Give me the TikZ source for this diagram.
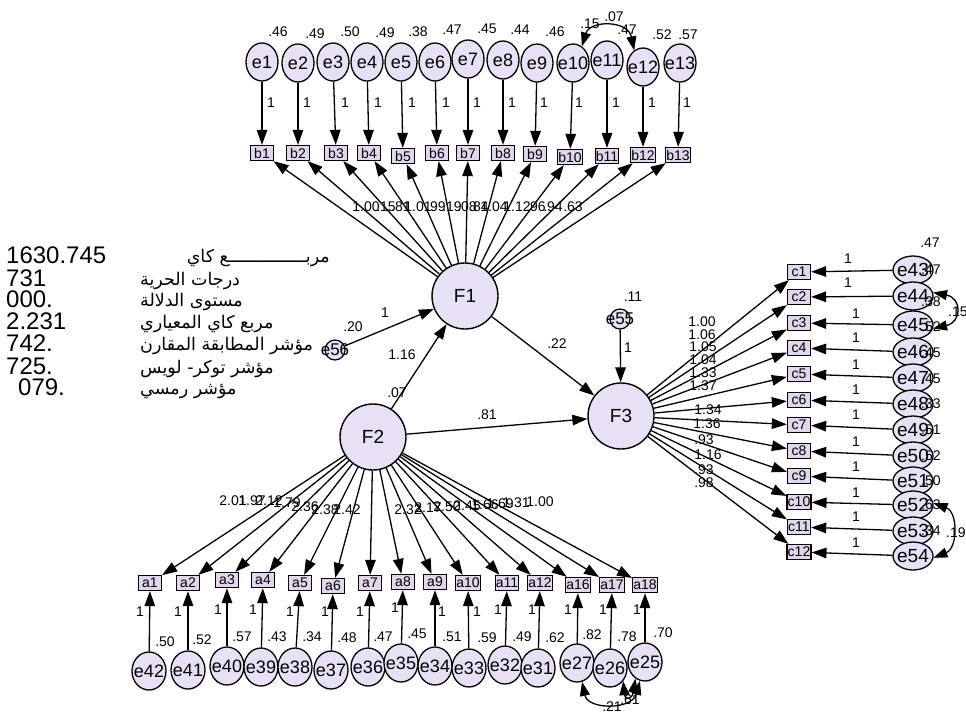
\documentclass[tikz,border=0pt]{standalone}
\usepackage{fontspec}
\setmainfont{Liberation Sans}
\newfontfamily\arabicfont[Script=Arabic]{DejaVu Sans}
\TeXXeTstate=1
\usetikzlibrary{arrows.meta,shapes.geometric}
\definecolor{lav}{RGB}{232,224,244}
\definecolor{boxc}{RGB}{226,214,236}
\begin{document}
\begin{tikzpicture}[x=1pt,y=-1pt,
  lat/.style={ellipse,draw,line width=1.3pt,fill=lav,inner sep=0pt,minimum width=32pt,minimum height=38pt,font=\fontsize{18}{18}\selectfont},
  latr/.style={lat,minimum width=40pt,minimum height=28pt},
  latb/.style={lat,minimum width=34pt,minimum height=38pt},
  fac/.style={circle,draw,line width=1.4pt,fill=lav,minimum size=66pt,inner sep=0pt,font=\fontsize{19}{19}\selectfont},
  dist/.style={circle,draw,line width=1.2pt,fill=lav,minimum size=20pt,inner sep=0pt},
  dtext/.style={font=\fontsize{17}{17}\selectfont,inner sep=0pt},
  obs/.style={rectangle,draw,line width=1.3pt,fill=boxc,inner sep=0.6pt,minimum width=23pt,minimum height=15pt,font=\fontsize{14}{14}\selectfont},
  val/.style={font=\fontsize{14}{14}\selectfont,inner sep=0pt},
  arr/.style={line width=1.3pt,-{Triangle[length=15pt,width=10.5pt]}},
  cov/.style={line width=1.3pt,{Triangle[length=14pt,width=10pt]}-{Triangle[length=14pt,width=10pt]}},
  stat/.style={font=\fontsize{24}{24}\selectfont,inner sep=0pt,anchor=base west},
  ar/.style={font=\arabicfont\fontsize{17.5}{17.5}\selectfont,inner sep=0pt},
]
\fill[white] (0,0) rectangle (966,713);
\useasboundingbox (0,0) rectangle (966,713);

% ---------- factors ----------
\node[fac] (F1) at (465,296) {F1};
\node[fac] (F2) at (373,437) {F2};
\node[fac] (F3) at (621,416) {F3};
\node[dist] (e56) at (335,350) {};
\node[dtext] (e56t) at (e56) {e56};
\node[dist] (e55) at (620,319) {};
\node[dtext] (e55t) at (e55) {e55};

\draw[arr] (e56) -- (F1);
\draw[arr] (e55) -- (F3);
\draw[arr] (F2) -- (F1);
\draw[arr] (F1) -- (F3);
\draw[arr] (F2) -- (F3);
\node[val] (s1) at (385,313) {1};
\node[val] (s2) at (353,327) {.20};
\node[val] (s3) at (402,355) {1.16};
\node[val] (s4) at (397,393) {.07};
\node[val] (s5) at (557,344) {.22};
\node[val] (s6) at (633,297) {.11};
\node[val] (s7) at (628,348) {1};
\node[val] (s8) at (487,415) {.81};

% ---------- top block ----------
\foreach \i/\ex/\ey/\bx/\by in {1/262/62/262/153,2/298/63/298/153,3/333/62/336/153,4/367/62/369/153,5/401/62/403/156,6/435/62/437/153,7/468/59/468/153,8/503/60/503/153,9/537/63/535/154,10/573/63/570/157,11/607/60/607/156,12/643/67/643/155,13/680/63/678/155}{
  \node[lat] (e\i) at (\ex,\ey) {\makebox[0pt]{e\i}};
  \node[obs] (b\i) at (\bx,\by) {b\i};
  \draw[arr] (e\i) -- (b\i);
  \draw[arr] (F1) -- (b\i);
  \node[val] (o\i) at (\bx+9,103) {1};
}
\foreach \n/\x/\y/\v in {1/278/32/.46,2/315/34/.49,3/350/32/.50,4/385/33/.49,5/418/32/.38,6/452/30/.47,7/487/29/.45,8/520/30/.44,9/555/32/.46,10/590/24/.15,11/627/30/.47,12/662/35/.52,13/688/35/.57}{
  \node[val] (r\n) at (\x,\y) {\v};
}
\draw[cov] (e10.62) .. controls (590,20) and (628,20) .. (e12.118);
\node[val] (cv1) at (614,17) {.07};
\foreach \n/\x/\v in {1/366/1.00,2/386/.15,3/401/.81,4/418/1.01,5/436/.99,6/452/.19,7/467/.08,8/479/.84,9/494/1.04,10/517/1.12,11/536/.96,12/553/.94,13/573/.63}{
  \node[val] (k\n) at (\x,207) {\v};
}

% ---------- right block ----------
\foreach \i/\cy in {1/272,2/297,3/323,4/348,5/374,6/400,7/425,8/451,9/476,10/502,11/527,12/552}{
  \node[obs] (c\i) at (799,\cy) {c\i};
  \draw[arr] (F3) -- (c\i);
}
\foreach \i/\j/\ey/\lx/\ly in {1/43/270/848/259,2/44/296/848/283,3/45/325/856/314,4/46/352/856/338,5/47/378/856/365,6/48/404/856/390,7/49/430/856/415,8/50/456/856/442,9/51/481/856/467,10/52/505/856/493,11/53/531/856/517,12/54/556/856/543}{
  \node[latr,font=\fontsize{19}{19}\selectfont] (e\j) at (913,\ey) {\makebox[0pt]{e\j}};
  \draw[arr] (e\j) -- (c\i);
  \node[val] (q\i) at (\lx,\ly) {1};
}
\foreach \j/\y/\v in {43/270/.47,44/302/.38,45/327/.52,46/353/.45,47/379/.45,48/404/.33,49/430/.51,50/456/.52,51/481/.50,52/505/.63,53/531/.34}{
  \node[val,anchor=west] (w\j) at (921,\y) {\v};
}
\node[val] (w0) at (930,243) {.47};
\draw[cov] (e44.10) .. controls (962,298) and (962,322) .. (e45.-10);
\node[val,anchor=west] (cv2) at (948,312) {.15};
\draw[cov] (e52.5) .. controls (958,512) and (958,548) .. (e54.-5);
\node[val,anchor=west] (cv3) at (946,533) {.19};
\foreach \n/\x/\y/\v in {1/702/322/1.00,2/702/335/1.06,3/703/347/1.05,4/703/360/1.04,5/703/373/1.33,6/703/386/1.37,7/708/410/1.34,8/707/424/1.36,9/704/440/.93,10/708/455/1.16,11/704/470/.93,12/704/483/.98}{
  \node[val] (h\n) at (\x,\y) {\v};
}

% ---------- bottom block ----------
\foreach \i/\ax/\ay/\j/\ex/\ey/\vx/\vy/\v/\ox/\oy in {1/150/583/42/149/671/165/642/.50/140/612,2/188/583/41/188/670/202/640/.52/178/612,3/227/580/40/227/666/242/637/.57/218/610,4/263/580/39/261/667/277/637/.43/253/610,5/300/583/38/295/667/312/637/.34/290/612,6/333/586/37/331/670/347/638/.48/325/612,7/370/583/36/368/667/383/637/.47/360/612,8/403/582/35/401/663/417/634/.45/395/608,9/435/582/34/435/666/452/637/.51/442/612,10/468/583/33/469/668/487/638/.59/477/612,11/507/583/32/505/665/522/637/.49/498/610,12/540/583/31/538/668/555/638/.62/532/610,16/578/585/27/577/663/592/635/.82/568/610,17/612/585/26/610/668/627/637/.78/603/610,18/645/585/25/645/662/663/633/.70/637/610}{
  \node[obs] (a\i) at (\ax,\ay) {a\i};
  \node[latb] (e\j) at (\ex,\ey) {\makebox[0pt]{e\j}};
  \draw[arr] (e\j) -- (a\i);
  \draw[arr] (F2) -- (a\i);
  \node[val] (p\j) at (\vx,\vy) {\v};
  \node[val] (u\j) at (\ox,\oy) {1};
}
\draw[cov] (e27.-75) .. controls (588,710) and (632,710) .. (e25.-105);
\draw[cov] (e26.-45) .. controls (625,700) and (632,700) .. (e25.-120);
\node[val] (cv4) at (612,707) {.21};
\node[val] (cv5) at (630,700) {.61};
\foreach \n/\x/\y/\v in {1/233/501/2.01,2/252/501/1.97,3/269/501/2.12,4/287/503/1.79,5/305/507/2.36,6/325/510/2.38,7/347/510/2.42,8/408/510/2.32,9/428/508/2.17,10/447/507/2.50,11/467/506/2.45,12/485/505/1.66,13/500/504/1.69,14/516/503/1.31,15/540/502/1.00}{
  \node[val] (g\n) at (\x,\y) {\v};
}

% ---------- statistics ----------
\node[stat] (n1) at (6,263) {1630.745};
\node[stat] (n2) at (6,286) {731};
\node[stat] (n3) at (6,307) {000.};
\node[stat] (n4) at (6,329) {2.231};
\node[stat] (n5) at (6,351) {742.};
\node[stat] (n6) at (6,374) {725.};
\node[stat] (n7) at (18,395) {079.};
\node[ar,anchor=base east] (t1) at (330,262) {\beginR مربـــــــــــــــع كاي\endR};
\node[ar,anchor=base west] (t2) at (140,285) {\beginR درجات الحرية\endR};
\node[ar,anchor=base west] (t3) at (140,306) {\beginR مستوى الدلالة\endR};
\node[ar,anchor=base west] (t4) at (140,328) {\beginR مربع كاي المعياري\endR};
\node[ar,anchor=base west] (t5) at (140,350) {\beginR مؤشر المطابقة المقارن\endR};
\node[ar,anchor=base west] (t6) at (140,373) {\beginR مؤشر توكر- لويس\endR};
\node[ar,anchor=base west] (t7) at (140,394) {\beginR مؤشر رمسي\endR};
\end{tikzpicture}
\end{document}
